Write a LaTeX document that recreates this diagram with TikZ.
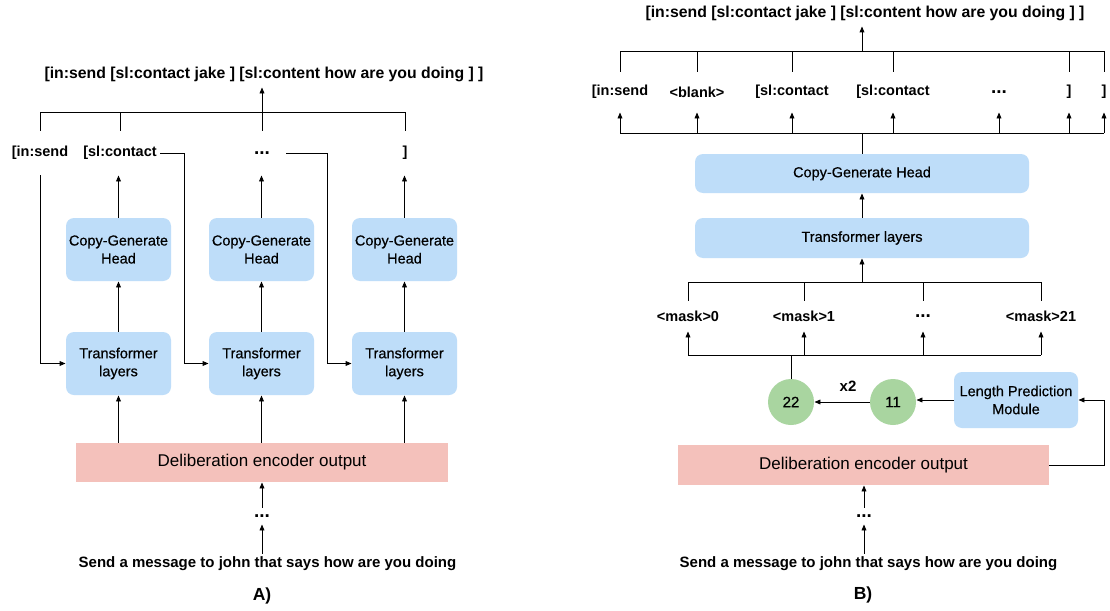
\documentclass[tikz,border=0pt]{standalone}
\usepackage{fontspec}
\setmainfont{Liberation Sans}
\newfontfamily\medfont[FakeBold=0.4]{Liberation Sans}
\usetikzlibrary{arrows.meta,calc}
\definecolor{boxblue}{RGB}{190,221,249}
\definecolor{boxpink}{RGB}{244,193,187}
\definecolor{circgreen}{RGB}{169,213,160}
\begin{document}
\begin{tikzpicture}[x=1pt,y=-1pt,
  line width=0.9pt,
  arr/.style={-{Triangle[length=6pt,width=4.8pt]}},
  bluebox/.style={fill=boxblue, rounded corners=8pt, draw=none, align=center, font={\fontsize{14.5}{18}\selectfont\medfont}, inner sep=0pt},
  pinkbox/.style={fill=boxpink, draw=none, font={\fontsize{17}{20}\selectfont}, inner sep=0pt},
  tok/.style={font={\fontsize{14.5}{17}\selectfont\bfseries}, minimum height=44pt, inner xsep=3pt, inner ysep=0pt},
  rtok/.style={tok, minimum height=40pt},
  mtok/.style={tok, minimum height=30pt},
  dotfont/.style={font={\fontsize{19}{20}\selectfont\bfseries}},
  titl/.style={font={\fontsize{15.8}{18}\selectfont\bfseries}, minimum height=26pt, inner sep=0pt},
  dotn/.style={dotfont, minimum height=16pt, inner sep=0pt},
  sent/.style={font={\fontsize{15}{18}\selectfont\bfseries}, minimum height=20pt, inner sep=0pt},
  panel/.style={font={\fontsize{17.5}{20}\selectfont\bfseries}, inner sep=0pt},
  circ/.style={circle, fill=circgreen, minimum size=46pt, inner sep=0pt, font={\fontsize{15}{18}\selectfont\medfont}}
]
\fill[white] (0,0) rectangle (1110,610);
\useasboundingbox (0,0) rectangle (1110,610);

% ================= Panel A =================
\node[titl] (tA) at (264,74) {[in:send [sl:contact jake ] [sl:content how are you doing ] ]};
\coordinate (busA) at (0,112);
\node[tok] (a1) at (40,153) {[in:send};
\node[tok] (a2) at (120,153) {[sl:contact};
\node[tok, dotfont] (a3) at (262,153) {...};
\node[tok] (a4) at (405,153) {]};
\foreach \n in {a1,a2,a3,a4} \draw (\n.north) -- (\n.north |- busA);
\draw (a1.north |- busA) -- (a4.north |- busA);
\draw[arr] (a3.north |- busA) -- (a3.north |- tA.south);

\node[bluebox, minimum width=105pt, minimum height=63pt] (cg1) at (118.5,249.5) {Copy-Generate\\Head};
\node[bluebox, minimum width=105pt, minimum height=63pt] (cg2) at (261.5,249.5) {Copy-Generate\\Head};
\node[bluebox, minimum width=105pt, minimum height=63pt] (cg3) at (404.5,249.5) {Copy-Generate\\Head};
\node[bluebox, minimum width=105pt, minimum height=63pt] (tl1) at (118.5,363.5) {Transformer\\layers};
\node[bluebox, minimum width=105pt, minimum height=63pt] (tl2) at (261.5,363.5) {Transformer\\layers};
\node[bluebox, minimum width=105pt, minimum height=63pt] (tl3) at (404.5,363.5) {Transformer\\layers};

\draw[arr] (cg1.north) -- (cg1.north |- a2.south);
\draw[arr] (cg2.north) -- (cg2.north |- a3.south);
\draw[arr] (cg3.north) -- (cg3.north |- a4.south);
\foreach \i in {1,2,3} \draw[arr] (tl\i.north) -- (cg\i.south);

\draw[arr] (a1.south) |- (tl1.west);
\draw[arr] (a2.east) -- ++(24,0) |- (tl2.west);
\draw[arr] ([xshift=13pt]a3.east) -- ++(41,0) |- (tl3.west);

\node[pinkbox, minimum width=372pt, minimum height=39pt] (dA) at (262,462.5) {Deliberation encoder output};
\foreach \n in {tl1,tl2,tl3} \draw[arr] (dA.north -| \n.south) -- (\n.south);
\node[dotn] (dotsA) at (262,516) {...};
\draw[arr] (dotsA.north) -- (dotsA.north |- dA.south);
\node[sent] (sA) at (267.5,564) {Send a message to john that says how are you doing};
\draw[arr] (sA.north -| dotsA.south) -- (dotsA.south);
\node[panel] (pA) at (262,596) {A)};

% ================= Panel B =================
\node[titl] (tB) at (865,13) {[in:send [sl:contact jake ] [sl:content how are you doing ] ]};
\coordinate (busB) at (0,51);
\coordinate (busC) at (0,133);
\node[rtok] (b1) at (620,92) {[in:send};
\node[rtok] (b2) at (697,92) {<blank>};
\node[rtok] (b3) at (792,92) {[sl:contact};
\node[rtok] (b4) at (893,92) {[sl:contact};
\node[rtok, dotfont] (b5) at (999,92) {...};
\node[rtok] (b6) at (1069,92) {]};
\node[rtok] (b7) at (1104,92) {]};
\foreach \n in {b1,b2,b3,b4,b6,b7} \draw (\n.north) -- (\n.north |- busB);
\draw (b1.north |- busB) -- (b7.north |- busB);
\draw (b1.south |- busC) -- (b7.south |- busC);
\foreach \n in {b1,b2,b3,b4,b5,b6,b7} \draw[arr] (\n.south |- busC) -- (\n.south);

\node[bluebox, minimum width=334pt, minimum height=39pt] (cgB) at (862,173.5) {Copy-Generate Head};
\node[bluebox, minimum width=334pt, minimum height=40pt] (tlB) at (862,238) {Transformer layers};
\draw[arr] (cgB.north |- busB) -- (cgB.north |- tB.south);
\draw (cgB.north) -- (cgB.north |- busC);
\draw[arr] (tlB.north) -- (cgB.south);

\coordinate (busD) at (0,282);
\coordinate (busE) at (0,355);
\draw[arr] (tlB.south |- busD) -- (tlB.south);
\node[mtok] (m1) at (688,316) {<mask>0};
\node[mtok] (m2) at (804,316) {<mask>1};
\node[mtok, dotfont] (m3) at (923,316) {...};
\node[mtok] (m4) at (1041,316) {<mask>21};
\foreach \n in {m1,m2,m3,m4} {
  \draw (\n.north) -- (\n.north |- busD);
  \draw[arr] (\n.south |- busE) -- (\n.south);
}
\draw (m1.north |- busD) -- (m4.north |- busD);
\draw (m1.south |- busE) -- (m4.south |- busE);

\node[circ] (c22) at (791,402) {22};
\node[circ] (c11) at (893,402) {11};
\node[bluebox, minimum width=124pt, minimum height=56pt] (lpm) at (1016,400) {Length Prediction\\Module};
\draw (c22.north) -- (c22.north |- busE);
\draw[arr] (lpm.west) -- (lpm.west -| c11.east);
\draw[arr] (c11.west) -- (c22.east);
\node[font={\fontsize{15}{18}\selectfont\bfseries}, inner sep=0pt] (x2) at (848,386) {x2};

\node[pinkbox, minimum width=371pt, minimum height=40pt] (dB) at (863.5,465) {Deliberation encoder output};
\draw[arr] (dB.east) -- ++(55,0) |- (lpm.east);
\node[dotn] (dotsB) at (864,516) {...};
\draw[arr] (dotsB.north) -- (dotsB.north |- dB.south);
\node[sent] (sB) at (868.5,564) {Send a message to john that says how are you doing};
\draw[arr] (sB.north -| dotsB.south) -- (dotsB.south);
\node[panel] (pB) at (863,595) {B)};
\end{tikzpicture}
\end{document}
